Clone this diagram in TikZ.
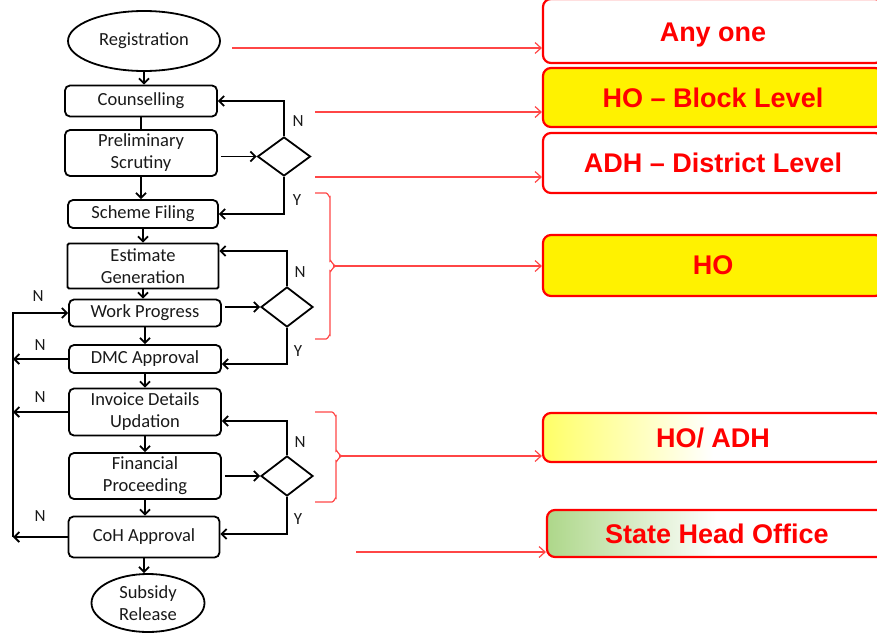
\documentclass[tikz,border=0pt]{standalone}
\usepackage{fontspec}
\setmainfont{Carlito}
\newfontfamily\arialf{Liberation Sans}
\usetikzlibrary{shapes.geometric,arrows.meta}
\definecolor{stgreen}{RGB}{118,188,58}
\definecolor{txt}{RGB}{25,25,25}
\definecolor{lnred}{RGB}{255,70,70}
\pgfdeclarehorizontalshading{yelfade}{100bp}{color(0bp)=(yellow); color(8bp)=(yellow); color(50bp)=(white); color(100bp)=(white)}
\pgfdeclarehorizontalshading{grnfade}{100bp}{color(0bp)=(stgreen); color(8bp)=(stgreen); color(50bp)=(white); color(100bp)=(white)}
\begin{document}
\begin{tikzpicture}[x=1pt,y=-1pt,
 fbox/.style={draw=black, line width=1.8pt, rounded corners=5pt, minimum width=152pt, inner sep=0pt, align=center, font=\fontsize{18.5}{22}\selectfont, text=txt},
 term/.style={ellipse, draw=black, line width=1.8pt, inner sep=0pt, align=center, font=\fontsize{18.5}{22}\selectfont, text=txt},
 dec/.style={diamond, draw=black, line width=1.8pt, minimum width=53pt, minimum height=39pt, inner sep=0pt},
 arr/.style={line width=1.8pt, -{Straight Barb[length=5pt,width=10pt]}},
 ln/.style={line width=1.8pt},
 lab/.style={font=\fontsize{17}{19}\selectfont, text=txt},
 rarr/.style={draw=lnred, line width=1.2pt, -{Straight Barb[length=6pt,width=11pt]}},
 bst/.style={draw=lnred, line width=1.2pt},
 rtext/.style={font=\arialf\bfseries\fontsize{27}{30}\selectfont, text=red},
 rbox/.style={draw=red, line width=2.2pt, rounded corners=8pt, minimum width=340pt, inner sep=0pt, rtext},
]
\path[use as bounding box, clip] (0,0) rectangle (877,634);

% flowchart nodes
\node[term, minimum width=152pt, minimum height=60pt] (reg) at (144,41) {Registration};
\node[fbox, minimum height=31pt] (cou) at (141,101) {Counselling};
\node[fbox, minimum height=46pt] (pre) at (141,153) {Preliminary\\Scrutiny};
\node[fbox, minimum height=28pt, minimum width=150pt] (sch) at (143,214) {Scheme Filing};
\node[fbox, rounded corners=1.5pt, minimum height=45pt, minimum width=151pt] (est) at (143,266) {Estimate\\Generation};
\node[fbox, minimum height=27pt] (wp) at (145,313) {Work Progress};
\node[fbox, minimum height=28pt] (dmc) at (145,359) {DMC Approval};
\node[fbox, minimum height=47pt] (inv) at (145,412) {Invoice Details\\Updation};
\node[fbox, minimum height=46pt] (fin) at (145,476) {Financial\\Proceeding};
\node[fbox, minimum height=41pt, minimum width=151pt] (coh) at (144,537) {CoH Approval};
\node[term, minimum width=113pt, minimum height=58pt] (sub) at (148,603) {Subsidy\\Release};

\node[dec] (d1) at (284,156.5) {};
\node[dec, minimum width=52pt, minimum height=40pt] (d2) at (287,307) {};
\node[dec, minimum width=52pt, minimum height=40pt] (d3) at (287,476) {};

% main flow
\draw[arr] (reg.south) -- (reg.south |- cou.north);
\draw[ln] (cou.south) -- (cou.south |- pre.north);
\draw[arr] (pre.south) -- (pre.south |- sch.north);
\draw[arr] (sch.south) -- (sch.south |- est.north);
\draw[arr] (est.south) -- (est.south |- wp.north);
\draw[arr] (wp.south) -- (wp.south |- dmc.north);
\draw[arr] (dmc.south) -- (dmc.south |- inv.north);
\draw[arr] (inv.south) -- (inv.south |- fin.north);
\draw[arr] (fin.south) -- (fin.south |- coh.north);
\draw[arr] (coh.south) -- (coh.south |- sub.north);

% decision loops
\draw[arr, shorten <=3pt] (pre.east |- d1.west) -- (d1.west);
\draw[arr] (d1.north) |- (cou.east);
\draw[arr] (d1.south) |- (sch.east);
\node[lab] (n1) at (298,121) {N};
\node[lab] (y1) at (297,200) {Y};

\draw[arr, shorten <=3pt] (wp.east |- d2.west) -- (d2.west);
\draw[arr] (d2.north) |- ([yshift=15pt]est.east);
\draw[arr] (d2.south) |- ([yshift=-5pt]dmc.east);
\node[lab] (n2) at (300,272) {N};
\node[lab] (y2) at (298,351) {Y};

\draw[arr, shorten <=3pt] (fin.east |- d3.west) -- (d3.west);
\draw[arr] (d3.north) |- ([yshift=-9pt]inv.east);
\draw[arr] (d3.south) |- ([yshift=3pt]coh.east);
\node[lab] (n3) at (300,442) {N};
\node[lab] (y3) at (298,519) {Y};

% left return loop
\coordinate (lft) at (13,0);
\draw[arr] (coh.west) -- (lft |- coh.west);
\draw[arr] (lft |- coh.west) -- (lft |- wp.west) -- (wp.west);
\draw[arr] (dmc.west) -- (lft |- dmc.west);
\draw[arr] (inv.west) -- (lft |- inv.west);
\node[lab] (n4) at (38,296) {N};
\node[lab] (n5) at (40,345) {N};
\node[lab] (n6) at (40,397) {N};
\node[lab] (n7) at (40,516) {N};

% right boxes
\node[rbox, fill=white, minimum height=64pt] (any) at (713,31) {};
\node[rtext] (anyT) at (713,35) {Any one};
\node[rbox, fill=yellow, minimum height=59pt] (hob) at (713,97.5) {HO – Block Level};
\node[rbox, fill=white, minimum height=60pt] (adh) at (713,163) {ADH – District Level};
\node[rbox, fill=yellow, minimum height=61pt] (ho) at (713,265.5) {HO};
\node[rbox, shade, shading=yelfade, minimum height=49pt] (hoadh) at (713,437.5) {HO/ ADH};
\node[rbox, shade, shading=grnfade, minimum height=47pt] (sho) at (717,533.5) {State Head Office};

% red connectors
\coordinate (r1) at (232,48);
\draw[rarr] (r1) -- (r1 -| any.west);
\coordinate (r2) at (315,112);
\draw[rarr] (r2) -- (r2 -| hob.west);
\coordinate (r3) at (315,177);
\draw[rarr] (r3) -- (r3 -| adh.west);

\draw[bst] (315,193) -- (326,193) to[out=0,in=-90] (330,197) -- (330,261) to[out=90,in=180] (336,266) to[out=180,in=-90] (330,271) -- (330,335) to[out=90,in=0] (326,339) -- (315,339);
\coordinate (b1) at (333,266);
\draw[rarr] (b1) -- (b1 -| ho.west);

\draw[bst] (315,412) -- (332,412) to[out=0,in=-90] (336,416) -- (336,451) to[out=90,in=180] (342,456) to[out=180,in=-90] (336,461) -- (336,498) to[out=90,in=0] (332,502) -- (315,502);
\coordinate (b2) at (339,456);
\draw[rarr] (b2) -- (b2 -| hoadh.west);

\coordinate (r4) at (356,552);
\draw[rarr] (r4) -- (r4 -| sho.west);
\end{tikzpicture}
\end{document}
